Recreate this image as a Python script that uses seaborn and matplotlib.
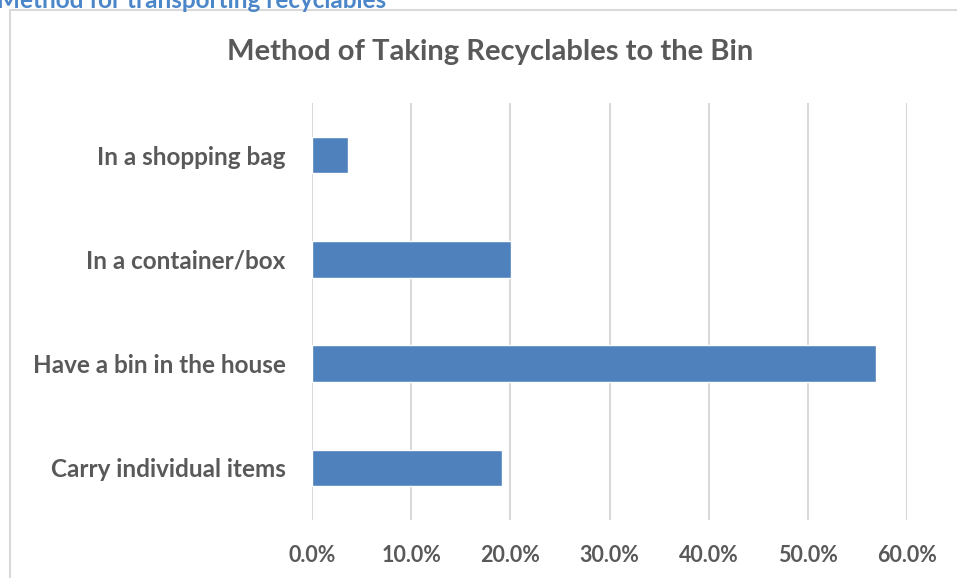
import matplotlib
matplotlib.use("Agg")
import matplotlib.pyplot as plt
import seaborn as sns
import pandas as pd
from matplotlib.ticker import PercentFormatter
from matplotlib.patches import Rectangle

categories = ["In a shopping bag", "In a container/box", "Have a bin in the house", "Carry individual items"]
values = [0.036, 0.201, 0.569, 0.192]
xticks = [0.0, 0.1, 0.2, 0.3, 0.4, 0.5, 0.6]

df = pd.DataFrame({"Method": categories, "Share": values})

sns.set_theme(style="white")
plt.rcParams['font.family'] = ['Lato', 'DejaVu Sans']

W, H = 957, 578
fig = plt.figure(figsize=(W / 100, H / 100), dpi=100)
ax = fig.add_axes([312 / W, 1 - 520 / H, (907 - 312) / W, (520 - 103) / H])

sns.barplot(data=df, x="Share", y="Method", orient="h", color="#4F81BD",
            saturation=1, width=0.35, ax=ax, zorder=3)

ax.set_xlim(0, 0.6)
ax.set_xticks(xticks)
ax.xaxis.set_major_formatter(PercentFormatter(1.0, decimals=1))
ax.grid(axis="x", color="#D9D9D9", linewidth=1.5, zorder=0)
ax.set_axisbelow(True)
for s in ax.spines.values():
    s.set_visible(False)
ax.set_xlabel("")
ax.set_ylabel("")
ax.tick_params(axis="x", length=0, pad=18, labelsize=15.5, labelcolor="#595959")
ax.tick_params(axis="y", length=0, pad=19, labelsize=17.5, labelcolor="#595959")
for lab in ax.get_xticklabels() + ax.get_yticklabels():
    lab.set_fontweight("bold")

# chart border
fig.patches.append(Rectangle((10 / W, -0.05), 1.2, 1 - 10 / H + 0.05, transform=fig.transFigure,
                             fill=False, edgecolor="#D9D9D9", linewidth=1.5))

fig.text(490 / W, 1 - 52 / H, "Method of Taking Recyclables to the Bin", ha="center", va="center",
         fontsize=21, fontweight="bold", color="#595959")

fig.text(-3 / W, 1 - 1 / H, "Method for transporting recyclables", ha="left", va="center",
         fontsize=17.5, fontweight="bold", color="#4A86C8")

fig.savefig("out.png", dpi=100, facecolor="white")
